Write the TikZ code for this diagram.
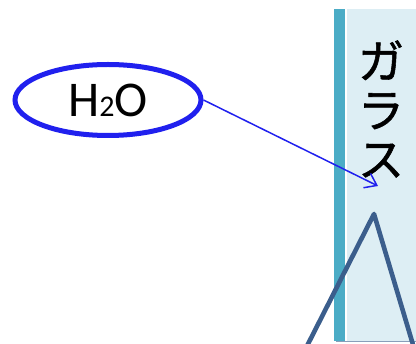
\documentclass[tikz,border=0pt]{standalone}
\usepackage{fontspec}
\setmainfont{Carlito}
\newfontfamily\jpfont[FakeBold=1.2]{Noto Sans CJK JP}
\usetikzlibrary{arrows.meta,shapes.geometric}
\definecolor{barteal}{HTML}{4BACC6}
\definecolor{glasslight}{HTML}{DDEEF4}
\definecolor{tridark}{HTML}{3B5E8C}
\definecolor{molblue}{HTML}{2020EE}
\tikzset{
  molecule/.style={draw=molblue, line width=5pt, ellipse, minimum width=186pt, minimum height=71pt, inner sep=0pt, font=\fontsize{50}{50}\selectfont},
  conn/.style={draw=molblue, line width=1.5pt, -{Straight Barb[length=11pt,width=16pt,line width=1.5pt]}},
}
\begin{document}
\begin{tikzpicture}[x=1pt,y=-1pt]
\useasboundingbox (0,0) rectangle (416,344);
\clip (0,0) rectangle (416,344);
\fill[glasslight] (347,9) rectangle (416,341);
\fill[barteal] (334,9) rectangle (345,341);
\draw[tridark!60, line width=0.8pt] (336,341.5) -- (416,341.5);
\node[align=center, inner sep=0pt, font=\jpfont\fontsize{46}{49}\selectfont] (glass) at (381,109) {ガ\\ラ\\ス};
\draw[tridark, line width=4.6pt, line join=round] (306,348) -- (374,214) -- (414,348);
\node[molecule] (h2o) at (108,100) {H{\fontsize{30}{30}\selectfont 2}O};
\coordinate (tip) at (378,186);
\draw[conn] (h2o.east) -- (tip);
\end{tikzpicture}
\end{document}
